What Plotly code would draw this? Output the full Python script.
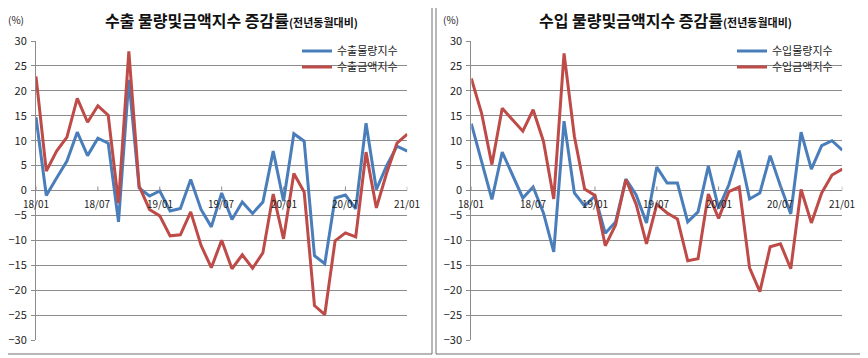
import plotly.graph_objects as go

W, H = 868, 358
OFF = 8  # page body margin compensation

months = list(range(37))  # 2018/01 .. 2021/01
tick_idx = [0, 6, 12, 18, 24, 30, 36]
tick_labels = ["18/01", "18/07", "19/01", "19/07", "20/01", "20/07", "21/01"]

exp_volume = [14.7, -1.0, 2.5, 5.9, 11.7, 7.0, 10.5, 9.5, -6.3, 22.2, 0.5, -1.1, -0.1,
              -4.1, -3.6, 2.2, -3.8, -7.3, -0.5, -5.8, -2.3, -4.6, -2.3, 7.9, -2.1,
              11.4, 9.9, -13.1, -14.7, -1.5, -0.9, -3.7, 13.5, 0.2, 5.0, 8.9, 7.9]
exp_value = [22.9, 3.9, 7.9, 10.7, 18.5, 13.7, 17.0, 15.1, -2.5, 27.9, 0.9, -3.8, -5.1,
             -9.1, -8.9, -4.3, -11.0, -15.5, -10.0, -15.7, -12.9, -15.6, -12.5, -0.7, -9.7,
             3.4, -0.3, -23.1, -24.9, -10.1, -8.5, -9.3, 7.7, -3.5, 3.5, 9.5, 11.3]
imp_volume = [13.4, 5.9, -1.8, 7.7, 3.1, -1.5, 0.7, -4.5, -12.3, 13.9, -0.5, -3.1, -1.1,
              -8.6, -6.3, 2.3, -0.9, -6.5, 4.7, 1.5, 1.5, -6.3, -4.3, 4.9, -3.6,
              1.2, 8.0, -1.7, -0.5, 7.0, 0.9, -4.7, 11.7, 4.3, 9.0, 10.0, 8.1]
imp_value = [22.5, 15.5, 5.2, 16.5, 14.2, 11.9, 16.2, 9.9, -1.7, 27.5, 10.9, 0.3, -1.0,
             -11.1, -6.9, 2.2, -2.8, -10.7, -2.8, -4.5, -5.7, -14.1, -13.7, -0.7, -5.6,
             -0.2, 0.7, -15.5, -20.3, -11.3, -10.7, -15.7, 0.2, -6.5, -0.5, 3.1, 4.3]

titles = ["수출 물량및금액지수 증감률", "수입 물량및금액지수 증감률"]
subtitle = "(전년동월대비)"
names = [["수출물량지수", "수출금액지수"], ["수입물량지수", "수입금액지수"]]
series = [[exp_volume, exp_value], [imp_volume, imp_value]]

BLUE = "#4A7EBB"
RED = "#BE4B48"
GRID = "#8C8C8C"
FONT = "Noto Sans CJK KR"


def px(x):
    return (x - OFF) / W


def py(y):
    return 1 - (y - OFF) / H


fig = go.Figure()

x_left = [px(36), px(407.3)]
x_right = [px(471.3), px(842.3)]
y_dom = [py(340), py(41)]
domains = [x_left, x_right]
panel_boxes = [(1, 432), (436, 866)]
title_cx = [231, 665]
legend_x = [297, 732]
legend_rows = [51, 67]

legend_ids = [["legend", "legend2"], ["legend3", "legend4"]]
legend_layout = {}

for p in range(2):
    xa = "x" if p == 0 else "x2"
    ya = "y" if p == 0 else "y2"
    for s, color in zip(range(2), [BLUE, RED]):
        lid = legend_ids[p][s]
        fig.add_trace(go.Scatter(
            x=months, y=series[p][s], mode="lines", name=names[p][s],
            line=dict(color=color, width=3), xaxis=xa, yaxis=ya, legend=lid,
        ))
        legend_layout[lid] = dict(
            x=px(legend_x[p]), y=py(legend_rows[s]), xanchor="left", yanchor="middle",
            bgcolor="rgba(0,0,0,0)", borderwidth=0,
            font=dict(family=FONT, size=11, color="#222"),
            itemwidth=30, tracegroupgap=0)
    # x tick labels at the zero line
    for tv, tl in zip(tick_idx, tick_labels):
        fig.add_annotation(x=tv, y=0, xref=xa, yref=ya, text=tl, showarrow=False,
                           xanchor="center", yanchor="middle",
                           yshift=-13, font=dict(family=FONT, size=10, color="#222"))
        fig.add_shape(type="line", xref=xa, yref=ya, x0=tv, x1=tv, y0=0, y1=4,
                      ysizemode="pixel", yanchor=0,
                      line=dict(color=GRID, width=1))
    d = domains[p]
    # title
    fig.add_annotation(xref="paper", yref="paper", x=px(title_cx[p]), y=py(20),
                       xanchor="center", yanchor="middle",
                       text=f"<b>{titles[p]}</b><span style='font-size:11px'><b>{subtitle}</b></span>",
                       showarrow=False, font=dict(family=FONT, size=16, color="#111"))
    fig.add_annotation(xref="paper", yref="paper", x=d[0] - 20 / W, y=py(19),
                       xanchor="center", yanchor="middle",
                       text="(%)", showarrow=False,
                       font=dict(family=FONT, size=10, color="#222"))
    # panel border
    bx0, bx1 = panel_boxes[p]
    fig.add_shape(type="rect", xref="paper", yref="paper",
                  x0=px(bx0), x1=px(bx1), y0=py(354), y1=py(-4),
                  line=dict(color="#707070", width=1))

axis_common = dict(range=[0, 36], showgrid=False, zeroline=False, showticklabels=False,
                   ticks="", showline=False, fixedrange=True)
yaxis_common = dict(range=[-30, 30], dtick=5, tick0=0, showgrid=True, gridcolor=GRID,
                    gridwidth=1, zeroline=True, zerolinecolor=GRID, zerolinewidth=1,
                    showline=True, linecolor=GRID, linewidth=1, ticks="outside",
                    ticklen=4, tickcolor=GRID, tickfont=dict(family=FONT, size=11, color="#222"),
                    ticklabelstandoff=2)

fig.update_layout(
    width=W, height=H, margin=dict(l=0, r=0, t=0, b=0, autoexpand=False),
    paper_bgcolor="white", plot_bgcolor="white",
    xaxis=dict(domain=x_left, anchor="y", **axis_common),
    yaxis=dict(domain=y_dom, anchor="x", **yaxis_common),
    xaxis2=dict(domain=x_right, anchor="y2", **axis_common),
    yaxis2=dict(domain=y_dom, anchor="x2", **yaxis_common),
    showlegend=True,
    **legend_layout,
)

fig.write_html("out.html")
